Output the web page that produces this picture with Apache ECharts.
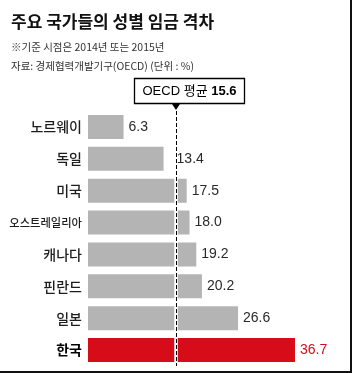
<!DOCTYPE html>
<html><head><meta charset="utf-8">
<script src="https://cdn.jsdelivr.net/npm/echarts@6/dist/echarts.min.js"></script>
<style>html,body{margin:0;padding:0;background:#fff}#c{width:352px;height:373px}</style>
</head><body><div id="c"></div>
<script>
const titleText = '주요 국가들의 성별 임금 격차';
const noteText = '※기준 시점은 2014년 또는 2015년';
const sourceText = '자료: 경제협력개발기구(OECD) (단위 : %)';
const categories = ['노르웨이','독일','미국','오스트레일리아','캐나다','핀란드','일본','한국'];
const values = [6.3, 13.4, 17.5, 18.0, 19.2, 20.2, 26.6, 36.7];
const oecdAvg = 15.6;
const oecdLabel = 'OECD 평균';
const highlight = '한국';

const GRAY = '#b4b4b4', RED = '#d60c18';
const KR = '"Noto Sans CJK KR", sans-serif';
const NUM = '"Liberation Sans", Arial, sans-serif';

const chart = echarts.init(document.getElementById('c'), null, {renderer:'canvas'});

const data = values.map((v, i) => {
  const hl = categories[i] === highlight;
  const nearLine = v < oecdAvg && v > oecdAvg - 3;
  return {
    value: v,
    itemStyle: {color: hl ? RED : GRAY},
    label: {color: hl ? RED : '#2a2a2a', offset: nearLine ? [8, 0] : [0, 0]}
  };
});

chart.setOption({
  animation: false,
  backgroundColor: '#fff',
  title: [
    {text: titleText, left: 6, top: 8, textStyle: {fontFamily: KR, fontSize: 17, fontWeight: 'bold', color: '#111'}},
    {text: noteText, left: 6, top: 37, textStyle: {fontFamily: KR, fontSize: 10.5, fontWeight: 'normal', color: '#333'}},
    {text: sourceText, left: 6, top: 56, textStyle: {fontFamily: KR, fontSize: 10.5, fontWeight: 'normal', color: '#333'}}
  ],
  grid: {left: 88, top: 111, height: 255, width: 253.8, outerBoundsMode: 'none', containLabel: false},
  xAxis: {type: 'value', min: 0, max: 45, show: false},
  yAxis: {
    type: 'category', data: categories, inverse: true,
    axisLine: {show: false}, axisTick: {show: false},
    axisLabel: {
      margin: 6, color: '#1e1e1e',
      formatter: (v) => {
        if (v === highlight) return '{b|' + v + '}';
        return v.length > 5 ? '{s|' + v + '}' : '{n|' + v + '}';
      },
      rich: {
        n: {fontFamily: KR, fontSize: 14, fontWeight: 500, color: '#1e1e1e'},
        s: {fontFamily: KR, fontSize: 11.3, fontWeight: 500, color: '#1e1e1e'},
        b: {fontFamily: KR, fontSize: 14, fontWeight: 'bold', color: '#000'}
      }
    }
  },
  series: [{
    type: 'bar', data: data, barWidth: 24,
    label: {show: true, position: 'right', distance: 5, fontFamily: NUM, fontSize: 14,
      formatter: (p) => p.value.toFixed(1)},
    markLine: {
      silent: true, symbol: 'none', label: {show: false},
      data: [
        {xAxis: oecdAvg, lineStyle: {color: '#fff', width: 3.5, type: 'solid'}},
        {xAxis: oecdAvg, lineStyle: {color: '#000', width: 1, type: [4, 2]}}
      ]
    }
  }]
});

const lx = chart.convertToPixel({gridIndex: 0}, [oecdAvg, 0])[0];
chart.setOption({
  graphic: [
    {type: 'rect', shape: {x: Math.round(lx) - 42 + 0.5, y: 78.5, width: 110, height: 25},
     style: {fill: '#fff', stroke: '#000', lineWidth: 1.3}},
    {type: 'text', x: Math.round(lx) - 42 + 55.5, y: 91, style: {
      text: '{a|' + oecdLabel + ' }{b|' + oecdAvg.toFixed(1) + '}', align: 'center', verticalAlign: 'middle',
      rich: {a: {fontFamily: NUM + ',' + KR, fontSize: 13, color: '#111'},
             b: {fontFamily: NUM, fontSize: 13, fontWeight: 'bold', color: '#111'}}}},
    {type: 'polygon', shape: {points: [[lx - 4, 104], [lx + 4, 104], [lx, 110]]}, style: {fill: '#000'}},
    {type: 'rect', shape: {x: 350, y: 0, width: 2, height: 373}, style: {fill: '#111'}},
    {type: 'rect', shape: {x: 0, y: 371, width: 352, height: 2}, style: {fill: '#111'}}
  ]
});
</script></body></html>
